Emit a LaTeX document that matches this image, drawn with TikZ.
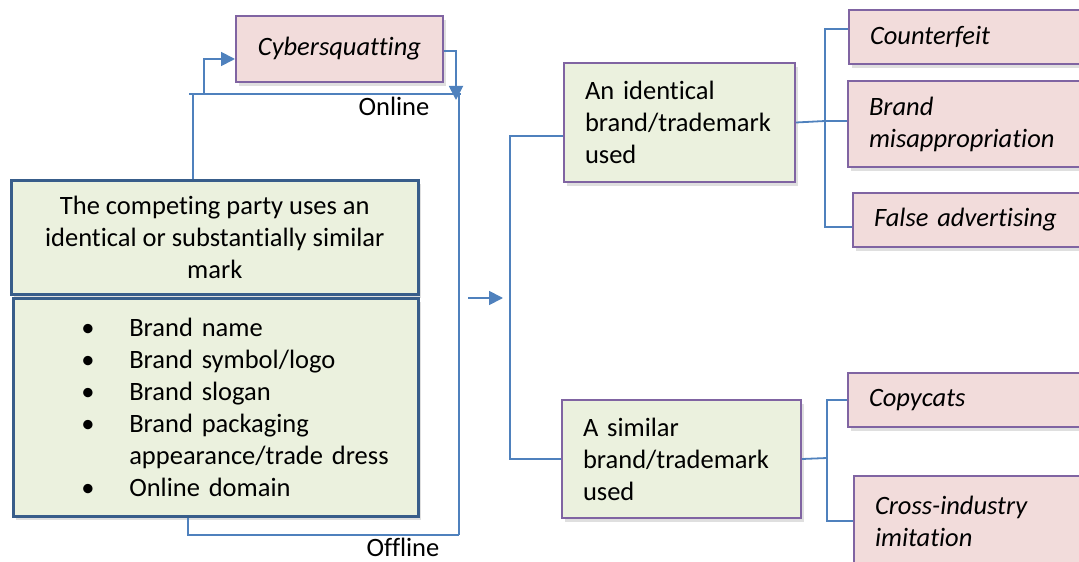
\documentclass[tikz,border=0pt]{standalone}
\usepackage{fontspec}
\setmainfont{Carlito}[Ligatures=NoCommon]
\usetikzlibrary{shapes,arrows.meta,shadows,calc,positioning}
\definecolor{cardGreen}{HTML}{EBF1DE}
\definecolor{cardPink}{HTML}{F2DCDB}
\definecolor{cardPurple}{HTML}{8064A2}
\definecolor{cardBlue}{HTML}{385D8A}
\definecolor{linkBlue}{HTML}{4F81BD}
\newcommand\cardfont{\fontsize{13.25}{16}\selectfont}
\newcommand\bulitem[1]{\hspace*{34pt}\makebox[24pt][l]{\textbullet}#1}

\begin{document}
\begin{tikzpicture}[x=0.5pt,y=-0.5pt,
    every node/.style={font=\cardfont},
    card/.style={rectangle, anchor=north west, inner ysep=0pt,
      drop shadow={opacity=0.25, shadow xshift=1.5pt, shadow yshift=-2pt}},
    bluecard/.style={card, fill=cardGreen, draw=cardBlue, line width=1.3pt},
    greencard/.style={card, fill=cardGreen, draw=cardPurple, line width=1pt,
      align=left, inner xsep=10.5pt},
    pinkcard/.style={card, fill=cardPink, draw=cardPurple, line width=1pt,
      font=\cardfont\itshape},
    link/.style={draw=linkBlue, line width=0.9pt},
    >={Triangle[length=7pt,width=7pt]}]

  \useasboundingbox (0,0) rectangle (1079,561);

  % left hand side: the mark and its forms
  \node[bluecard, align=center, minimum width=203.5pt, minimum height=57pt] (party) at (10,179)
    {The competing party uses an\\ identical or substantially similar\\ mark};
  \node[bluecard, align=left, text width=202.5pt, inner xsep=0pt, minimum height=109pt] (forms) at (12,297)
    {\bulitem{Brand name}\\ \bulitem{Brand symbol/logo}\\ \bulitem{Brand slogan}\\
     \bulitem{Brand packaging}\\ \hspace*{58pt}appearance/trade dress\\ \bulitem{Online domain}};

  \node[pinkcard, align=center, minimum width=103.5pt, minimum height=33pt] (cyber) at (235,15) {Cybersquatting};

  % middle: the two kinds of use
  \node[greencard, text width=94.5pt, minimum height=59.5pt] (identical) at (563,62)
    {An identical\\ brand/trademark\\ used};
  \node[greencard, text width=98.5pt, minimum height=59pt] (similar) at (561,399)
    {A similar\\ brand/trademark\\ used};

  % right hand side: the infringements
  \foreach \name/\x/\y/\h/\txt in {
      counterfeit/848/9/27/{Counterfeit},
      misapp/847/80/43/{Brand\\ misappropriation},
      falseadv/852/192/27/{False advertising},
      copycats/847/372/27/{Copycats},
      crossind/853/475/45/{Cross-industry\\ imitation}}
  {
    \pgfmathsetmacro\w{(1095-\x)/2-21}
    \node[pinkcard, align=left, inner xsep=10.5pt, text width=\w pt, minimum height=\h pt] (\name) at (\x,\y) {\txt};
  }

  % online / offline routes
  \coordinate (onlineL) at (189,94);
  \coordinate (onlineR) at (461,94);
  \coordinate (mergeBot) at (459,535);
  \node (onlineLabel) at (394,106) {Online};
  \node[inner ysep=0pt] (offlineLabel) at (403,547) {Offline};

  \draw[link] (party.north -| 193,0) -- (onlineL -| 193,0);
  \draw[link] (onlineL) -- (onlineR);
  \draw[link,->] (204,94) |- (cyber.west |- 0,59);
  \draw[link,->] (cyber.east |- 0,51) -| (456,100);
  \draw[link] (459,94) -- (mergeBot);
  \draw[link] (forms.south -| 188,0) |- (mergeBot);

  % into the bracket
  \coordinate (arrowTail) at (468,298);
  \coordinate (bracket) at (510,298);
  \draw[link,->] (arrowTail) -- (503,298);
  \draw[link] (identical.west |- 0,136) -| (bracket) |- (similar.west);

  % the forks
  \coordinate (forkA) at (825,121);
  \coordinate (forkB) at (827,458);
  \draw[link] (identical.east) -- (forkA);
  \draw[link] (counterfeit.west |- 0,29) -| (forkA) |- (falseadv.west |- 0,227);
  \draw[link] (forkA) -- (forkA -| misapp.west);
  \draw[link] (similar.east) -- (forkB);
  \draw[link] (copycats.west) -| (forkB) |- (crossind.west);

\end{tikzpicture}
\end{document}
